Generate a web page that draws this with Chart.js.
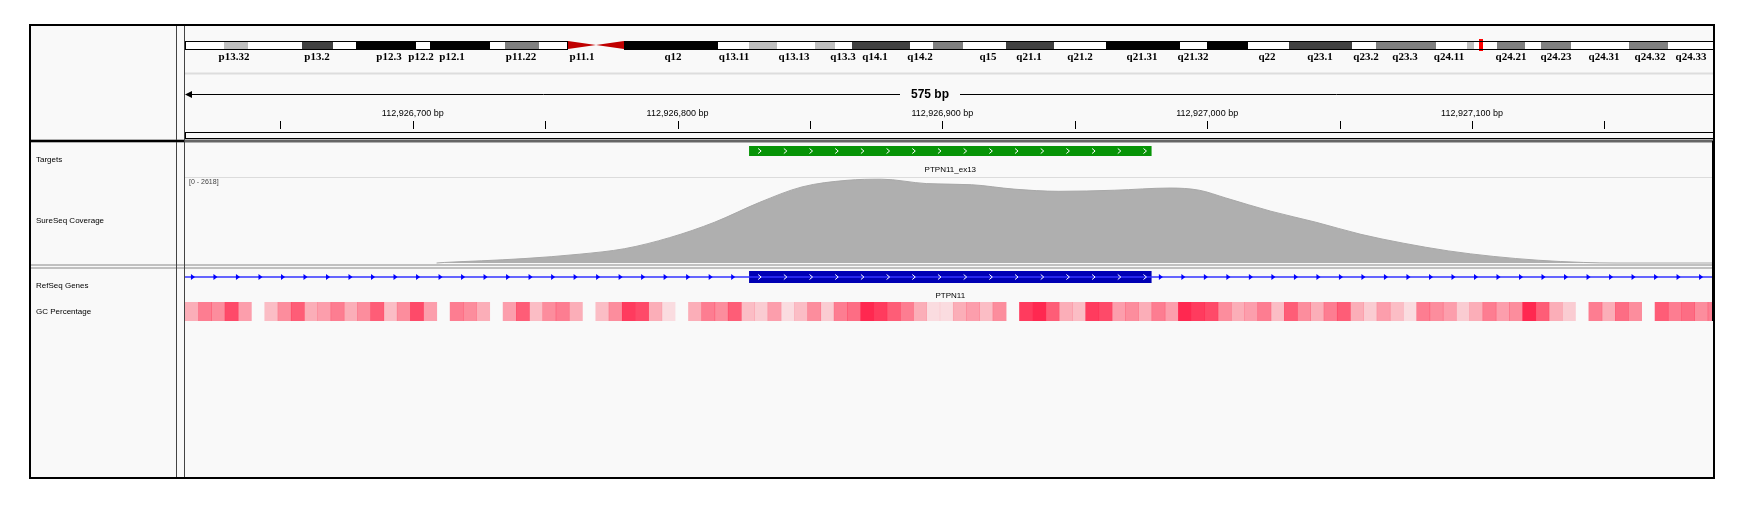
<!DOCTYPE html>
<html>
<head>
<meta charset="utf-8">
<script src="https://cdn.jsdelivr.net/npm/chart.js@4.4.1/dist/chart.umd.min.js"></script>
<style>
  body { margin: 0; background: #fff; }
  #wrap { width: 1750px; height: 509px; position: relative; }
</style>
</head>
<body>
<div id="wrap"><canvas id="igv"></canvas></div>
<script>
// ---- data ----
const viewStart = 112926614;
const viewEnd = 112927191;
const covMax = 2618;

// coverage profile (position, depth)
const covPos = [112926709, 112926712, 112926726, 112926742, 112926763, 112926780, 112926797, 112926814, 112926831,
  112926847, 112926864, 112926877, 112926894, 112926911, 112926927, 112926944, 112926965, 112926986, 112926997,
  112927007, 112927024, 112927041, 112927058, 112927074, 112927091, 112927108, 112927125, 112927142, 112927154, 112927191];
const covVal = [0, 17, 67, 134, 268, 436, 772, 1242, 1846,
  2316, 2517, 2551, 2417, 2383, 2249, 2182, 2215, 2282, 2215,
  1980, 1577, 1242, 873, 604, 369, 201, 84, 17, 0, 0];

const targetStart = 112926827, targetEnd = 112926979;
const targetName = 'PTPN11_ex13';
const exonStart = 112926827, exonEnd = 112926979;
const geneName = 'PTPN11';

// GC percentage, 5 bp bins from viewStart (null = no value)
const gcBin = 5;
const gcVal = [45, 60, 55, 75, 50, null, 40, 55, 70, 45, 50, 60, 45, 55, 70, 40, 55, 75, 50, null,
  60, 55, 45, null, 50, 70, 40, 55, 60, 45, null, 40, 55, 80, 75, 45, 30, null, 45, 60,
  55, 70, 40, 35, 50, 25, 40, 55, 35, 60, 65, 85, 80, 70, 60, 45, 30, 25, 45, 50,
  40, 55, null, 80, 85, 70, 45, 40, 80, 75, 50, 55, 45, 60, 50, 85, 80, 75, 55, 45,
  50, 60, 40, 70, 55, 45, 60, 70, 45, 35, 50, 40, 30, 60, 55, 50, 35, 45, 60, 50,
  55, 85, 70, 45, 35, null, 60, 45, 65, 55, null, 70, 60, 65, 55, 60];

const rulerTicks = [112926650, 112926700, 112926750, 112926800, 112926850, 112926900, 112926950,
  112927000, 112927050, 112927100, 112927150];
const rulerLabels = [112926700, 112926800, 112926900, 112927000, 112927100];

// chr12 ideogram bands: [start px, end px, stain]
const bands = [[185, 224, 'w'], [224, 248, 'l'], [248, 302, 'w'], [302, 333, 'd'], [333, 356, 'w'], [356, 416, 'b'],
  [416, 430, 'w'], [430, 490, 'b'], [490, 505, 'w'], [505, 539, 'g'], [539, 568, 'w'], [624, 718, 'b'],
  [718, 749, 'w'], [749, 777, 'l'], [777, 815, 'w'], [815, 835, 'l'], [835, 852, 'w'], [852, 910, 'd'],
  [910, 933, 'w'], [933, 963, 'g'], [963, 1006, 'w'], [1006, 1054, 'd'], [1054, 1106, 'w'], [1106, 1180, 'b'],
  [1180, 1207, 'w'], [1207, 1248, 'b'], [1248, 1289, 'w'], [1289, 1352, 'd'], [1352, 1376, 'w'], [1376, 1436, 'g'],
  [1436, 1467, 'w'], [1467, 1474, 'l'], [1474, 1497, 'w'], [1497, 1525, 'g'], [1525, 1541, 'w'], [1541, 1571, 'g'],
  [1571, 1629, 'w'], [1629, 1668, 'g'], [1668, 1713, 'w']];
const bandLabels = [['p13.32', 234], ['p13.2', 317], ['p12.3', 389], ['p12.2', 421], ['p12.1', 452], ['p11.22', 521],
  ['p11.1', 582], ['q12', 673], ['q13.11', 734], ['q13.13', 794], ['q13.3', 843], ['q14.1', 875], ['q14.2', 920],
  ['q15', 988], ['q21.1', 1029], ['q21.2', 1080], ['q21.31', 1142], ['q21.32', 1193], ['q22', 1267], ['q23.1', 1320],
  ['q23.2', 1366], ['q23.3', 1405], ['q24.11', 1449], ['q24.21', 1511], ['q24.23', 1556], ['q24.31', 1604],
  ['q24.32', 1650], ['q24.33', 1691]];
const stainColor = { w: '#ffffff', l: '#c0c0c0', g: '#808080', d: '#404040', b: '#000000' };

// ---- layout (pixels) ----
const H = 509;
const dataLeft = 185, dataRight = 1713;
const covTop = 177, covBottom = 263;
const targetY = 151, geneY = 277;
const covRange = covMax * H / (covBottom - covTop);
const covMin = -(H - covBottom) / H * covRange;

const sans = '"Liberation Sans", Arial, sans-serif';
const serif = '"Liberation Serif", "Times New Roman", serif';

function line(ctx, x1, y1, x2, y2, color, w) {
  ctx.strokeStyle = color; ctx.lineWidth = w || 1;
  ctx.beginPath(); ctx.moveTo(x1, y1); ctx.lineTo(x2, y2); ctx.stroke();
}

const igvBack = {
  id: 'igvBack',
  beforeDatasetsDraw(chart) {
    const ctx = chart.ctx, x = chart.scales.x;
    ctx.save();
    ctx.fillStyle = '#f9f9f9';
    ctx.fillRect(30, 25, 1684, 453);
    // ideogram
    const iy = 41, ih = 8;
    bands.forEach(b => {
      ctx.fillStyle = stainColor[b[2]];
      ctx.fillRect(b[0], iy, b[1] - b[0], ih);
    });
    ctx.fillStyle = '#c00000';
    ctx.beginPath(); ctx.moveTo(568, iy); ctx.lineTo(596, iy + ih / 2); ctx.lineTo(568, iy + ih); ctx.fill();
    ctx.beginPath(); ctx.moveTo(624, iy); ctx.lineTo(596, iy + ih / 2); ctx.lineTo(624, iy + ih); ctx.fill();
    ctx.fillStyle = '#ff0000';
    ctx.fillRect(1479, iy - 2, 4, ih + 4);
    ctx.strokeStyle = '#000'; ctx.lineWidth = 1;
    ctx.strokeRect(185.5, iy + 0.5, 382, ih);
    ctx.strokeRect(624.5, iy + 0.5, 1089, ih);
    ctx.fillStyle = '#000';
    ctx.font = 'bold 11px ' + serif;
    ctx.textAlign = 'center'; ctx.textBaseline = 'middle';
    bandLabels.forEach(l => ctx.fillText(l[0], l[1], 57));
    line(ctx, dataLeft, 73.5, dataRight, 73.5, '#dddddd', 2);
    // 575 bp arrow line
    line(ctx, dataLeft + 2, 94.5, 900, 94.5, '#000', 1);
    line(ctx, 960, 94.5, dataRight, 94.5, '#000', 1);
    ctx.beginPath(); ctx.moveTo(dataLeft, 94.5); ctx.lineTo(dataLeft + 7, 91); ctx.lineTo(dataLeft + 7, 98); ctx.fill();
    ctx.font = 'bold 12px ' + sans;
    ctx.fillText((viewEnd - viewStart - 2) + ' bp', 930, 95);
    // ruler
    ctx.font = '9px ' + sans;
    rulerLabels.forEach(p => ctx.fillText(p.toLocaleString('en-US') + ' bp', x.getPixelForValue(p), 114));
    rulerTicks.forEach(p => {
      const px = Math.round(x.getPixelForValue(p)) + 0.5;
      line(ctx, px, 121, px, 129, '#000', 1);
    });
    ctx.strokeStyle = '#000';
    ctx.strokeRect(dataLeft + 0.5, 132.5, dataRight - dataLeft, 6);
    line(ctx, 30, 141, 1714, 141, '#666', 3);
    line(ctx, dataLeft, covTop + 0.5, dataRight, covTop + 0.5, '#dcdcdc', 1);
    ctx.fillStyle = '#444';
    ctx.font = '7px ' + sans; ctx.textAlign = 'left';
    ctx.fillText('[0 - ' + covMax + ']', dataLeft + 4, 182);
    // GC strip
    for (let i = 0; i < gcVal.length; i++) {
      const v = gcVal[i];
      if (v === null) continue;
      const x1 = x.getPixelForValue(viewStart + i * gcBin);
      const x2 = Math.min(x.getPixelForValue(viewStart + (i + 1) * gcBin), dataRight);
      const a = Math.max(0.15, Math.min(1, (v - 20) / 65));
      ctx.fillStyle = `rgba(255, ${Math.round(40 + 20 * (1 - a))}, 80, ${a.toFixed(2)})`;
      ctx.fillRect(x1, 302, x2 - x1 + 0.5, 19);
    }
    ctx.restore();
  },
  afterDatasetsDraw(chart) {
    const ctx = chart.ctx, x = chart.scales.x;
    ctx.save();
    // intron arrows
    ctx.fillStyle = '#0000ff';
    for (let p = viewStart + 3; p < viewEnd; p += 8.5) {
      if (p > exonStart - 2 && p < exonEnd + 2) continue;
      const px = x.getPixelForValue(p);
      ctx.beginPath(); ctx.moveTo(px - 2, geneY - 3); ctx.lineTo(px + 2, geneY); ctx.lineTo(px - 2, geneY + 3); ctx.fill();
    }
    // chevrons inside features
    const chev = (s, e, y) => {
      ctx.strokeStyle = '#ffffff'; ctx.lineWidth = 1;
      for (let p = s + 4; p < e; p += 9.7) {
        const px = x.getPixelForValue(p);
        ctx.beginPath(); ctx.moveTo(px - 1.5, y - 2.5); ctx.lineTo(px + 1.5, y); ctx.lineTo(px - 1.5, y + 2.5); ctx.stroke();
      }
    };
    chev(targetStart, targetEnd, targetY);
    chev(exonStart, exonEnd, geneY);
    ctx.fillStyle = '#000';
    ctx.font = '8px ' + sans; ctx.textAlign = 'center'; ctx.textBaseline = 'middle';
    ctx.fillText(targetName, x.getPixelForValue((targetStart + targetEnd) / 2), 170);
    ctx.fillText(geneName, x.getPixelForValue((exonStart + exonEnd) / 2), 296);
    // separators and frame
    line(ctx, 30, 265, 1714, 265, '#888', 1);
    line(ctx, 30, 268, 1714, 268, '#888', 1);
    line(ctx, 176.5, 25, 176.5, 478, '#444', 1);
    line(ctx, 184.5, 25, 184.5, 478, '#444', 1);
    ctx.fillStyle = '#f9f9f9';
    ctx.fillRect(dataRight + 1, 25, 1714 - dataRight, 453);
    ctx.fillStyle = '#000';
    ctx.fillRect(1712, 141, 2, 180);
    ctx.strokeStyle = '#000'; ctx.lineWidth = 2;
    ctx.strokeRect(30, 25, 1684, 453);
    line(ctx, 30, 141, 184, 141, '#000', 2);
    // track names
    ctx.fillStyle = '#000';
    ctx.font = '8px ' + sans; ctx.textAlign = 'left';
    ctx.fillText('Targets', 36, 160);
    ctx.fillText('SureSeq Coverage', 36, 221);
    ctx.fillText('RefSeq Genes', 36, 286);
    ctx.fillText('GC Percentage', 36, 312);
    ctx.restore();
  }
};

new Chart(document.getElementById('igv'), {
  type: 'line',
  data: {
    datasets: [
      {
        label: 'SureSeq Coverage',
        data: covPos.map((p, i) => ({ x: p, y: covVal[i] })),
        yAxisID: 'yCov',
        fill: 'origin',
        backgroundColor: '#afafaf',
        borderColor: '#a8a8a8',
        borderWidth: 1,
        pointRadius: 0,
        cubicInterpolationMode: 'monotone'
      },
      {
        label: 'Targets',
        data: [{ x: targetStart, y: targetY }, { x: targetEnd, y: targetY }],
        yAxisID: 'yPix',
        borderColor: '#079407',
        borderWidth: 10,
        borderCapStyle: 'butt',
        pointRadius: 0
      },
      {
        label: 'Intron',
        data: [{ x: viewStart, y: geneY }, { x: viewEnd, y: geneY }],
        yAxisID: 'yPix',
        borderColor: '#3333ff',
        borderWidth: 1.5,
        pointRadius: 0
      },
      {
        label: 'Exon',
        data: [{ x: exonStart, y: geneY }, { x: exonEnd, y: geneY }],
        yAxisID: 'yPix',
        borderColor: '#0000b4',
        borderWidth: 12,
        borderCapStyle: 'butt',
        pointRadius: 0
      }
    ]
  },
  options: {
    responsive: true,
    maintainAspectRatio: false,
    animation: false,
    layout: { padding: { left: dataLeft, right: 1750 - dataRight, top: 0, bottom: 0 } },
    plugins: { legend: { display: false }, tooltip: { enabled: false } },
    scales: {
      x: { type: 'linear', min: viewStart, max: viewEnd, display: false },
      yCov: { min: covMin, max: covMin + covRange, display: false },
      yPix: { min: 0, max: H, reverse: true, display: false }
    }
  },
  plugins: [igvBack]
});
</script>
</body>
</html>
